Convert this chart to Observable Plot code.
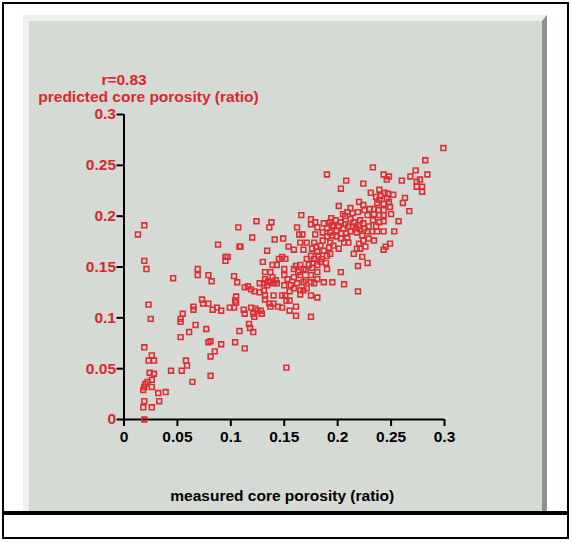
<!DOCTYPE html>
<html><head><meta charset="utf-8">
<script src="https://cdn.jsdelivr.net/npm/d3@7"></script>
<script src="https://cdn.jsdelivr.net/npm/@observablehq/plot@0.6"></script>
<style>
html,body{margin:0;padding:0;width:572px;height:542px;overflow:hidden;background:#fff;}
#frame{position:absolute;left:2px;top:2px;width:567px;height:537px;box-sizing:border-box;border:2px solid #000;}
#panel{position:absolute;left:23px;top:15px;width:524px;height:496px;box-sizing:border-box;background:#d5dad5;border-top:6px solid #eef1ee;border-left:6px solid #eef1ee;border-right:5px solid #8c918c;}
#rule{position:absolute;left:2px;top:511px;width:567px;height:4px;background:#000;}
#chart{position:absolute;left:0;top:0;}
</style></head>
<body>
<div id="frame"></div><div id="panel"></div><div id="rule"></div><div id="chart"></div>
<script>
// [measured core porosity, predicted core porosity]
const stemPoints = [[0.013,0.182],[0.019,0.191],[0.019,0.156],[0.021,0.148],[0.023,0.113],[0.025,0.099],[0.019,0.071],[0.026,0.063],[0.023,0.058],[0.028,0.058],[0.024,0.046],[0.028,0.045],[0.026,0.039],[0.022,0.037],[0.020,0.035],[0.019,0.032],[0.018,0.029],[0.026,0.032],[0.032,0.026],[0.039,0.027],[0.033,0.018],[0.019,0.018],[0.018,0.012],[0.026,0.012],[0.019,0.000]];
const lowPoints = [[0.044,0.048],[0.054,0.048],[0.058,0.058],[0.059,0.053],[0.064,0.037],[0.081,0.043],[0.081,0.062],[0.085,0.067],[0.091,0.074],[0.079,0.076],[0.081,0.077],[0.077,0.089],[0.067,0.093],[0.061,0.086],[0.053,0.081],[0.053,0.096],[0.053,0.099],[0.055,0.104],[0.065,0.108],[0.065,0.111],[0.073,0.118],[0.074,0.114],[0.079,0.114],[0.083,0.108],[0.087,0.110],[0.091,0.107],[0.099,0.110],[0.103,0.110],[0.104,0.117],[0.105,0.121],[0.105,0.115],[0.108,0.087],[0.104,0.076],[0.046,0.139],[0.069,0.148],[0.069,0.142],[0.079,0.142],[0.082,0.136],[0.103,0.141],[0.106,0.135],[0.095,0.156],[0.088,0.172],[0.095,0.160],[0.097,0.160],[0.107,0.189],[0.108,0.170],[0.109,0.170]];
const midPoints = [[0.113,0.070],[0.112,0.108],[0.113,0.104],[0.117,0.094],[0.118,0.090],[0.121,0.086],[0.113,0.130],[0.116,0.131],[0.119,0.128],[0.122,0.126],[0.127,0.125],[0.119,0.110],[0.123,0.109],[0.125,0.107],[0.128,0.107],[0.121,0.104],[0.122,0.101],[0.136,0.114],[0.140,0.114],[0.144,0.111],[0.127,0.134],[0.131,0.134],[0.139,0.140],[0.142,0.137],[0.140,0.134],[0.132,0.145],[0.137,0.145],[0.139,0.152],[0.130,0.155],[0.132,0.122],[0.132,0.118],[0.135,0.136],[0.120,0.179],[0.124,0.195],[0.138,0.194],[0.136,0.189],[0.141,0.177],[0.134,0.166],[0.149,0.178],[0.154,0.170],[0.159,0.167],[0.145,0.158],[0.148,0.160],[0.151,0.158],[0.143,0.152],[0.150,0.148],[0.159,0.148],[0.161,0.151],[0.132,0.138],[0.150,0.142],[0.153,0.138],[0.159,0.140],[0.165,0.142],[0.168,0.135],[0.162,0.134],[0.156,0.132],[0.150,0.132],[0.143,0.134],[0.137,0.135],[0.134,0.132],[0.159,0.129],[0.165,0.127],[0.151,0.122],[0.140,0.122],[0.131,0.127],[0.155,0.126],[0.148,0.122],[0.152,0.117],[0.155,0.117],[0.161,0.111],[0.161,0.102],[0.155,0.107],[0.148,0.110],[0.137,0.111],[0.129,0.104],[0.152,0.051],[0.164,0.182],[0.167,0.182],[0.162,0.189],[0.166,0.201],[0.165,0.174],[0.165,0.123],[0.168,0.127],[0.168,0.148],[0.171,0.158]];
const corePoints = [[0.175,0.197],[0.179,0.194],[0.175,0.192],[0.181,0.189],[0.179,0.182],[0.187,0.193],[0.193,0.194],[0.195,0.191],[0.193,0.184],[0.195,0.181],[0.190,0.241],[0.171,0.174],[0.178,0.174],[0.186,0.176],[0.193,0.174],[0.168,0.167],[0.176,0.168],[0.192,0.169],[0.175,0.161],[0.181,0.165],[0.187,0.166],[0.193,0.163],[0.178,0.158],[0.184,0.155],[0.190,0.148],[0.175,0.142],[0.181,0.145],[0.175,0.135],[0.181,0.138],[0.187,0.135],[0.195,0.135],[0.171,0.129],[0.181,0.120],[0.175,0.122],[0.175,0.101],[0.178,0.134],[0.170,0.137],[0.196,0.171],[0.201,0.168],[0.203,0.145],[0.201,0.210],[0.203,0.227],[0.198,0.196],[0.203,0.194],[0.203,0.178],[0.196,0.190],[0.199,0.186],[0.201,0.190],[0.205,0.188],[0.207,0.192],[0.210,0.190],[0.214,0.190],[0.217,0.188],[0.220,0.190],[0.212,0.185],[0.208,0.183],[0.203,0.183],[0.199,0.180],[0.218,0.184],[0.221,0.187],[0.225,0.188],[0.229,0.190],[0.223,0.181],[0.205,0.202],[0.209,0.204],[0.214,0.203],[0.219,0.204],[0.194,0.198],[0.190,0.188],[0.186,0.184],[0.190,0.180],[0.184,0.171],[0.180,0.170],[0.177,0.154],[0.181,0.152],[0.185,0.158],[0.182,0.161],[0.173,0.152],[0.170,0.147],[0.165,0.152],[0.163,0.145],[0.176,0.149],[0.189,0.154],[0.190,0.161]];
const highPoints = [[0.208,0.235],[0.224,0.232],[0.233,0.248],[0.243,0.241],[0.248,0.239],[0.246,0.236],[0.231,0.223],[0.239,0.226],[0.240,0.220],[0.244,0.223],[0.247,0.222],[0.252,0.221],[0.236,0.219],[0.239,0.216],[0.246,0.217],[0.248,0.214],[0.212,0.208],[0.220,0.214],[0.224,0.211],[0.237,0.213],[0.243,0.212],[0.238,0.206],[0.243,0.206],[0.249,0.209],[0.250,0.202],[0.228,0.201],[0.234,0.202],[0.243,0.201],[0.207,0.200],[0.212,0.197],[0.215,0.194],[0.221,0.196],[0.224,0.193],[0.243,0.195],[0.253,0.185],[0.243,0.185],[0.237,0.185],[0.232,0.185],[0.228,0.185],[0.257,0.195],[0.249,0.173],[0.245,0.170],[0.243,0.167],[0.209,0.179],[0.206,0.174],[0.210,0.174],[0.220,0.173],[0.224,0.176],[0.229,0.178],[0.234,0.176],[0.221,0.168],[0.226,0.170],[0.218,0.168],[0.215,0.163],[0.223,0.160],[0.228,0.154],[0.219,0.151],[0.206,0.133],[0.219,0.126],[0.233,0.196],[0.236,0.190],[0.239,0.194],[0.239,0.201],[0.234,0.207],[0.230,0.207],[0.225,0.206]];
const topPoints = [[0.299,0.267],[0.282,0.255],[0.284,0.241],[0.273,0.245],[0.268,0.239],[0.277,0.236],[0.274,0.234],[0.274,0.229],[0.279,0.229],[0.279,0.224],[0.260,0.235],[0.263,0.218],[0.261,0.213],[0.267,0.205]];

const xTicks = [0, 0.05, 0.1, 0.15, 0.2, 0.25, 0.3];
const yTicks = [0, 0.05, 0.1, 0.15, 0.2, 0.25, 0.3];
const rLabel = "r=0.83";
const yTitle = "predicted core porosity (ratio)";
const xTitle = "measured core porosity (ratio)";

const points = [].concat(stemPoints, lowPoints, midPoints, corePoints, highPoints, topPoints);
const FONT = "'Liberation Sans', Arial, Helvetica, sans-serif";
const RED = "#d8282c";

const chart = Plot.plot({
  width: 572,
  height: 542,
  marginLeft: 123.5,
  marginRight: 128,
  marginTop: 114,
  marginBottom: 123,
  x: {domain: [0, 0.3]},
  y: {domain: [0, 0.3]},
  style: {background: "transparent", fontFamily: FONT, fontWeight: "bold", fontSize: "15.5px", overflow: "visible"},
  marks: [
    Plot.axisX({ticks: xTicks, tickSize: 7, tickPadding: 4.5, strokeWidth: 2, stroke: "#000", fill: "#000", tickFormat: d => String(d), label: null}),
    Plot.axisY({ticks: yTicks, tickSize: 7, tickPadding: 1, strokeWidth: 2, stroke: "#000", fill: RED, tickFormat: d => String(d), label: null}),
    Plot.ruleY([0], {stroke: "#000", strokeWidth: 2}),
    Plot.ruleX([0], {stroke: "#000", strokeWidth: 2}),
    Plot.dot(points, {x: d => d[0], y: d => d[1], symbol: "square", r: 2.7, stroke: "#dd2f33", strokeWidth: 1.6, fill: "none"}),
    Plot.text([rLabel], {text: d => d, frameAnchor: "top-left", dx: 0, dy: -34, textAnchor: "middle", lineAnchor: "middle", fill: RED}),
    Plot.text([yTitle], {text: d => d, frameAnchor: "top-left", dx: 24.5, dy: -17.3, textAnchor: "middle", lineAnchor: "middle", fill: RED}),
    Plot.text([xTitle], {text: d => d, frameAnchor: "bottom", dx: -2, dy: 77, textAnchor: "middle", lineAnchor: "middle", fill: "#000"})
  ]
});
document.getElementById("chart").appendChild(chart);
</script>
</body></html>
